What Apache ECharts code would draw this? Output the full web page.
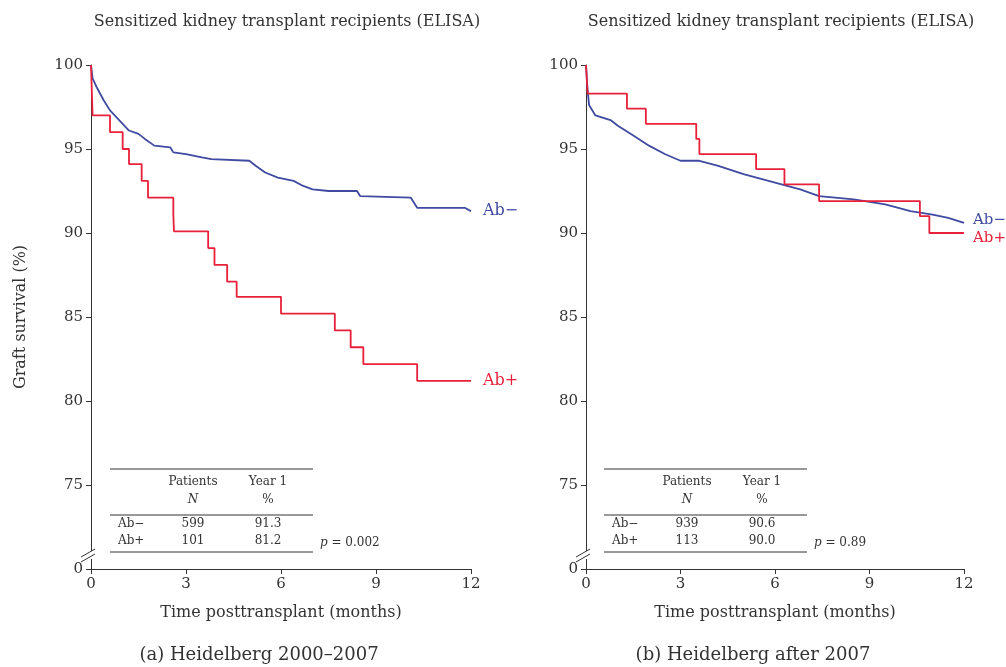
<!DOCTYPE html>
<html><head><meta charset="utf-8">
<script src="https://cdn.jsdelivr.net/npm/echarts@6/dist/echarts.min.js"></script>
<style>html,body{margin:0;background:#fff}#c{width:1006px;height:667px}</style>
</head><body><div id="c"></div>
<script>
// 数据：Kaplan-Meier 曲线（月份, 生存率%）
const leftAbNeg = [[0,100],[0.05,99.2],[0.2,98.6],[0.4,97.9],[0.6,97.3],[0.8,96.9],[1.0,96.5],[1.2,96.1],[1.5,95.9],[1.7,95.6],[2.0,95.2],[2.5,95.1],[2.6,94.8],[3.0,94.7],[3.5,94.5],[3.8,94.4],[5.0,94.3],[5.2,94.0],[5.5,93.6],[5.9,93.3],[6.4,93.1],[6.7,92.8],[7.0,92.6],[7.5,92.5],[8.4,92.5],[8.5,92.2],[10.1,92.1],[10.3,91.5],[11.8,91.5],[12,91.3]];
const leftAbPos = [[0,100],[0.05,97.0],[0.6,96.0],[1.0,95.0],[1.2,94.1],[1.6,93.1],[1.8,92.1],[2.6,91.1],[2.62,90.1],[3.7,89.1],[3.9,88.1],[4.3,87.1],[4.6,86.2],[6.0,85.2],[7.7,84.2],[8.2,83.2],[8.6,82.2],[10.3,81.2],[12,81.2]];
const rightAbNeg = [[0,100],[0.05,98.5],[0.1,97.6],[0.3,97.0],[0.8,96.7],[1.0,96.4],[1.5,95.8],[2.0,95.2],[2.5,94.7],[3.0,94.3],[3.6,94.3],[4.2,94.0],[5.0,93.5],[6.0,93.0],[6.8,92.6],[7.4,92.2],[8.5,92.0],[9.5,91.7],[10.3,91.3],[11.0,91.1],[11.5,90.9],[12,90.6]];
const rightAbPos = [[0,100],[0.05,98.3],[1.3,97.4],[1.9,96.5],[3.5,95.6],[3.6,94.7],[5.4,93.8],[6.3,92.9],[7.4,91.9],[10.6,91.0],[10.9,90.0],[12,90.0]];
const xTicks = [0,3,6,9,12];
const yTicks = [70,75,80,85,90,95,100];
const panelTitle = 'Sensitized kidney transplant recipients (ELISA)';
const captions = ['(a) Heidelberg 2000–2007','(b) Heidelberg after 2007'];
const tableRows = [[['Ab−','599','91.3'],['Ab+','101','81.2']],[['Ab−','939','90.6'],['Ab+','113','90.0']]];
const pValues = ['0.002','0.89'];

const FONT = 'DejaVu Serif, Liberation Serif, serif';
const TXT = '#333';
const BLUE = '#3f4aa0', RED = '#e8203a';
const grids = [{left:91,width:380,top:65,height:504},{left:586,width:378,top:65,height:504}];

function xAx(i){return {gridIndex:i,type:'value',min:0,max:12,interval:3,
  axisLine:{lineStyle:{color:TXT}},axisTick:{length:5,lineStyle:{color:TXT}},
  axisLabel:{color:TXT,fontFamily:FONT,fontSize:15,margin:8},splitLine:{show:false},
  name:'Time posttransplant (months)',nameLocation:'middle',nameGap:36,
  nameTextStyle:{color:TXT,fontFamily:FONT,fontSize:16}};}
function yAx(i){return {gridIndex:i,type:'value',min:70,max:100,interval:5,
  axisLine:{show:true,lineStyle:{color:TXT}},axisTick:{show:true,length:5,lineStyle:{color:TXT}},
  axisLabel:{color:TXT,fontFamily:FONT,fontSize:15,formatter:v=>v===70?'0':String(v)},splitLine:{show:false},
  name:i===0?'Graft survival (%)':'',nameLocation:'middle',nameGap:62,
  nameTextStyle:{color:TXT,fontFamily:FONT,fontSize:16}};}
function ser(i,name,data,color,step,off,fs){return {type:'line',xAxisIndex:i,yAxisIndex:i,name,data,step,
  showSymbol:false,symbol:'none',lineStyle:{color,width:1.8},
  endLabel:{show:true,formatter:name,color,fontFamily:FONT,fontSize:fs,offset:off}};}

const graphic = [];
[0,1].forEach(p=>{
  const dx = p*494;
  graphic.push({type:'text',x:287+dx,y:22,style:{text:panelTitle,fill:TXT,font:'16px '+FONT,textAlign:'center',textVerticalAlign:'middle'}});
  graphic.push({type:'text',x:259+dx,y:655,style:{text:captions[p],fill:TXT,font:'18px '+FONT,textAlign:'center',textVerticalAlign:'middle'}});
  // axis break
  const bx = grids[p].left, by = 556;
  graphic.push({type:'rect',shape:{x:bx-3,y:by-5,width:6,height:8},style:{fill:'#fff'},z:100});
  graphic.push({type:'line',shape:{x1:bx-10,y1:by+1,x2:bx+4,y2:by-7},style:{stroke:TXT,lineWidth:1},z:101});
  graphic.push({type:'line',shape:{x1:bx-10,y1:by+6,x2:bx+4,y2:by-2},style:{stroke:TXT,lineWidth:1},z:101});
  // table
  const x0 = 110+dx, x1 = 313+dx;
  [469,515,552].forEach(y=>graphic.push({type:'line',shape:{x1:x0,y1:y,x2:x1,y2:y},style:{stroke:TXT,lineWidth:1}}));
  const t=(s,x,y,extra)=>graphic.push({type:'text',x,y,style:Object.assign({text:s,fill:TXT,font:'12px '+FONT,textAlign:'center',textVerticalAlign:'middle'},extra||{})});
  t('Patients',193+dx,482); t('Year 1',268+dx,482);
  t('N',193+dx,500,{font:'italic 12px '+FONT}); t('%',268+dx,500);
  tableRows[p].forEach((r,k)=>{const y=524+k*17; t(r[0],118+dx,y,{textAlign:'left'}); t(r[1],193+dx,y); t(r[2],268+dx,y);});
  graphic.push({type:'text',x:320+dx,y:543,style:{text:'{i|p} = '+pValues[p],fill:TXT,font:'12px '+FONT,textVerticalAlign:'middle',rich:{i:{fontStyle:'italic',fontFamily:FONT,fontSize:12,fill:TXT}}}});
});

const chart = echarts.init(document.getElementById('c'));
chart.setOption({
  animation:false,
  grid:grids,
  xAxis:[xAx(0),xAx(1)],
  yAxis:[yAx(0),yAx(1)],
  series:[ser(0,'Ab−',leftAbNeg,BLUE,false,[4,0],16),ser(0,'Ab+',leftAbPos,RED,'end',[4,0],16),
          ser(1,'Ab−',rightAbNeg,BLUE,false,[1,-3],15),ser(1,'Ab+',rightAbPos,RED,'end',[1,5],15)],
  graphic
});
</script></body></html>
